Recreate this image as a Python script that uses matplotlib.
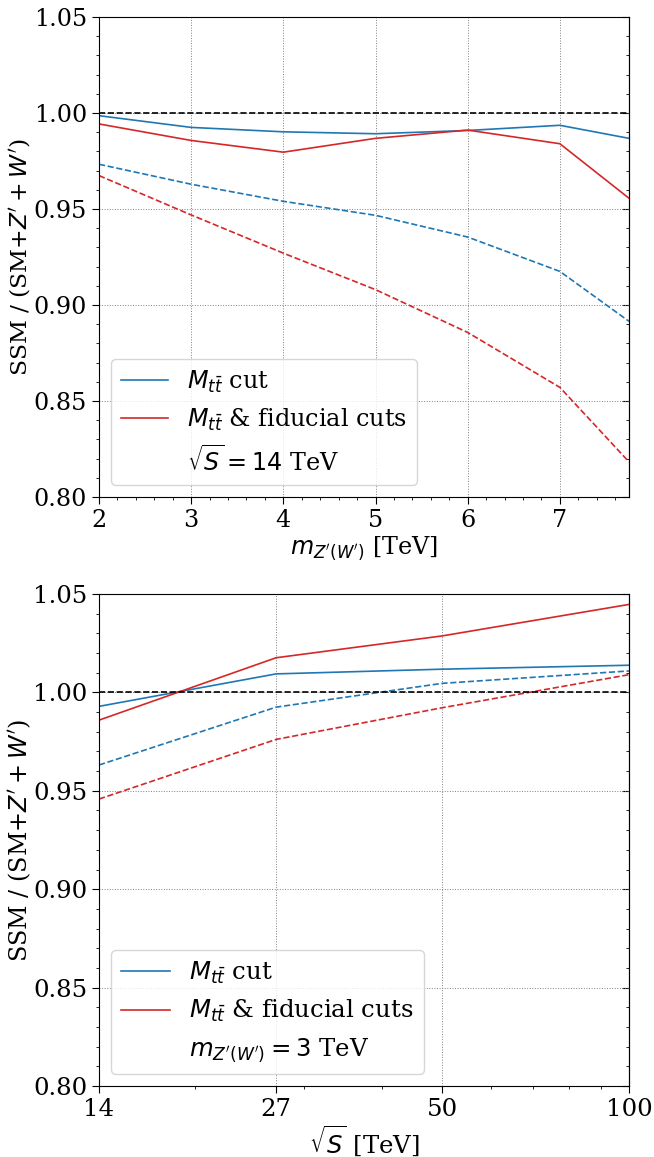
import matplotlib
matplotlib.use("Agg")
import matplotlib.pyplot as plt
from matplotlib.ticker import FixedLocator, FixedFormatter, NullFormatter, LogLocator, MultipleLocator

plt.rcParams['font.family'] = 'serif'
plt.rcParams['font.serif'] = ['DejaVu Serif']
plt.rcParams['mathtext.fontset'] = 'dejavusans'

# ---- data ----
mass = [2, 3, 4, 5, 6, 7, 7.75]
top_blue_solid = [0.9986, 0.9925, 0.9902, 0.9892, 0.9909, 0.9936, 0.9868]
top_red_solid = [0.9943, 0.9857, 0.9796, 0.9868, 0.9911, 0.9840, 0.9556]
top_blue_dash = [0.9733, 0.9629, 0.9540, 0.9467, 0.9354, 0.9175, 0.8915]
top_red_dash = [0.9674, 0.9469, 0.9270, 0.9080, 0.8857, 0.8571, 0.8183]

sqrtS = [14, 27, 50, 100]
bot_blue_solid = [0.9929, 1.0094, 1.0118, 1.0138]
bot_red_solid = [0.9859, 1.0176, 1.0287, 1.0447]
bot_blue_dash = [0.9631, 0.9925, 1.0046, 1.0109]
bot_red_dash = [0.9458, 0.9761, 0.9922, 1.0090]

top_xticks = [2, 3, 4, 5, 6, 7]
bot_xticks = [14, 27, 50, 100]
bot_xticklabels = ['14', '27', '50', '100']
yticks = [0.80, 0.85, 0.90, 0.95, 1.00, 1.05]

blue = '#1f77b4'
red = '#d62728'
lw = 1.2

fig = plt.figure(figsize=(6.54, 11.57), dpi=100)
ax1 = fig.add_axes([99/654, 1-497/1157, 530/654, 480/1157])
ax2 = fig.add_axes([99/654, 1-1086/1157, 530/654, 492/1157])

ylabel = r"SSM / (SM+$Z' + W'$)"


def style(ax, fs, yfs):
    ax.set_ylim(0.80, 1.05)
    ax.set_yticks(yticks)
    ax.set_yticklabels(['%.2f' % v for v in yticks])
    ax.yaxis.set_minor_locator(MultipleLocator(0.01))
    ax.tick_params(axis='both', which='major', labelsize=fs, length=5)
    ax.tick_params(axis='both', which='minor', length=2.5)
    ax.grid(True, which='major', linestyle=':', color='gray', linewidth=0.7)
    ax.axhline(1.0, color='black', linestyle='--', linewidth=1.2, zorder=3)
    ax.set_ylabel(ylabel, fontsize=yfs)
    ax.yaxis.set_label_coords(-0.123, 0.5)
    sec = ax.secondary_yaxis('right')
    sec.set_yticks(yticks)
    sec.yaxis.set_minor_locator(MultipleLocator(0.01))
    sec.tick_params(axis='y', which='both', direction='in', labelright=False)
    sec.tick_params(axis='y', which='major', length=5)
    sec.tick_params(axis='y', which='minor', length=2.5)


def legend(ax, third, fs):
    h1, = ax.plot([], [], color=blue, lw=lw)
    h2, = ax.plot([], [], color=red, lw=lw)
    h3, = ax.plot([], [], color='none')
    ax.legend([h1, h2, h3],
              [r'$M_{t\bar{t}}$ cut', r'$M_{t\bar{t}}$ & fiducial cuts', third],
              loc='lower left', fontsize=fs, handlelength=2.0)


# top panel
fs1 = 17.2
ax1.plot(mass, top_blue_solid, color=blue, lw=lw)
ax1.plot(mass, top_red_solid, color=red, lw=lw)
ax1.plot(mass, top_blue_dash, color=blue, lw=lw, ls='--')
ax1.plot(mass, top_red_dash, color=red, lw=lw, ls='--')
ax1.set_xlim(2, 7.75)
ax1.set_xticks(top_xticks)
ax1.set_xticklabels([str(v) for v in top_xticks])
ax1.xaxis.set_minor_locator(MultipleLocator(0.2))
style(ax1, fs1, 16.8)
ax1.set_xlabel(r"$m_{Z'(W')}$ [TeV]", fontsize=fs1, labelpad=2)
legend(ax1, r'$\sqrt{S} = 14$ TeV', fs1)

# bottom panel
fs2 = 17.6
ax2.plot(sqrtS, bot_blue_solid, color=blue, lw=lw)
ax2.plot(sqrtS, bot_red_solid, color=red, lw=lw)
ax2.plot(sqrtS, bot_blue_dash, color=blue, lw=lw, ls='--')
ax2.plot(sqrtS, bot_red_dash, color=red, lw=lw, ls='--')
ax2.set_xscale('log')
ax2.set_xlim(14, 100)
ax2.xaxis.set_major_locator(FixedLocator(bot_xticks))
ax2.xaxis.set_major_formatter(FixedFormatter(bot_xticklabels))
ax2.xaxis.set_minor_locator(LogLocator(base=10, subs=range(2, 10)))
ax2.xaxis.set_minor_formatter(NullFormatter())
style(ax2, fs2, 17.2)
ax2.set_xlabel(r"$\sqrt{S}$ [TeV]", fontsize=fs2, labelpad=2)
legend(ax2, r"$m_{Z'(W')} = 3$ TeV", fs2)

fig.savefig('out.png', dpi=100)
